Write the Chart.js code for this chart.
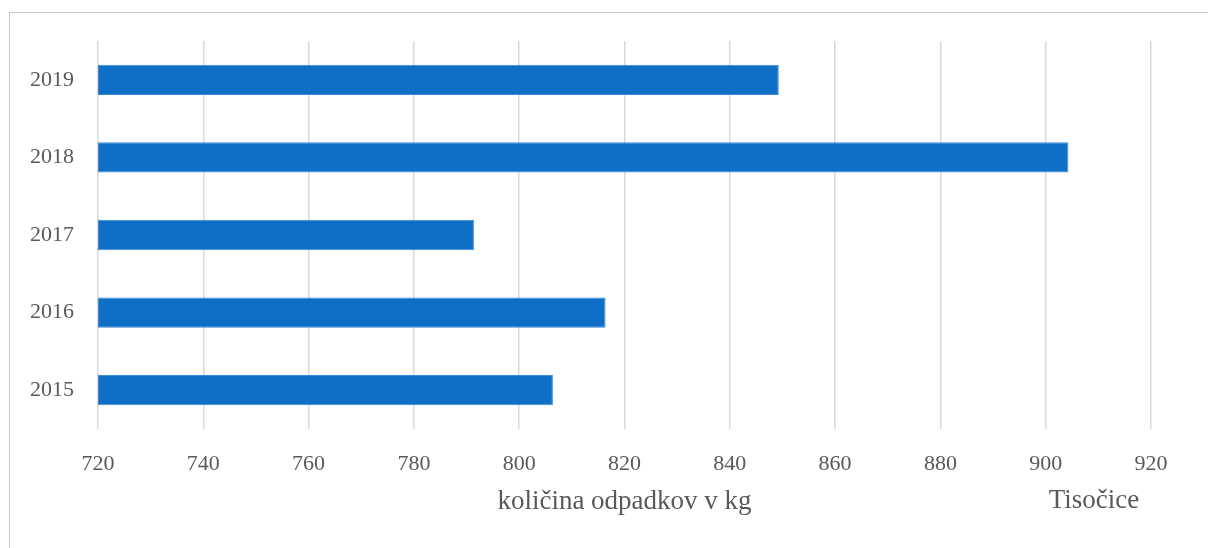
<!DOCTYPE html>
<html>
<head>
<meta charset="utf-8">
<script src="https://cdn.jsdelivr.net/npm/chart.js@4.4.1/dist/chart.umd.min.js"></script>
<style>
    html, body { margin: 0; padding: 0; background: #fff; overflow: hidden; }
    #wrap { position: relative; width: 1208px; height: 548px; }
    #frame {
        position: absolute; left: 9px; top: 12px; width: 1300px; height: 600px;
        border: 1px solid #c6c6c6; pointer-events: none; box-sizing: border-box;
    }
</style>
</head>
<body>
<div id="wrap">
    <canvas id="chart-waste" width="1208" height="548"></canvas>
    <div id="frame"></div>
</div>
<script>
    // Podatki (v tisočicah kg)
    const years = ['2019', '2018', '2017', '2016', '2015'];
    const wasteValues = [849.3, 904.3, 791.4, 816.4, 806.4];
    const xTicks = [720, 740, 760, 780, 800, 820, 840, 860, 880, 900, 920];

    const FONT = "'Liberation Serif', 'DejaVu Serif', serif";
    const TEXT_COLOR = '#595959';

    // Oznaka enote prikaza ("Tisočice") pod osjo
    const unitLabel = {
        id: 'unitLabel',
        afterDraw(chart) {
            const ctx = chart.ctx;
            ctx.save();
            ctx.font = '27px ' + FONT;
            ctx.fillStyle = TEXT_COLOR;
            ctx.textAlign = 'center';
            ctx.textBaseline = 'middle';
            ctx.fillText('Tisočice', 1094, 501);
            ctx.restore();
        }
    };

    new Chart(document.getElementById('chart-waste'), {
        type: 'bar',
        data: {
            labels: years,
            datasets: [{
                label: 'količina odpadkov v kg',
                data: wasteValues.map(v => [xTicks[0], v]),
                backgroundColor: '#0f6fc6',
                borderColor: '#3a8ad4',
                borderWidth: 1,
                borderSkipped: false,
                categoryPercentage: 1,
                barPercentage: 0.39
            }]
        },
        options: {
            indexAxis: 'y',
            responsive: false,
            animation: false,
            layout: { padding: { top: 41, right: 57, left: 0, bottom: 30 } },
            plugins: { legend: { display: false }, tooltip: { enabled: false } },
            scales: {
                x: {
                    min: 720,
                    max: 920,
                    afterBuildTicks: (scale) => { scale.ticks = xTicks.map(v => ({ value: v })); },
                    afterFit: (scale) => { scale.height = 89; },
                    ticks: { color: TEXT_COLOR, font: { family: FONT, size: 22 }, padding: 22 },
                    grid: { color: '#d9d9d9', lineWidth: 1.5, drawTicks: false },
                    border: { display: false },
                    title: {
                        display: true,
                        text: 'količina odpadkov v kg',
                        color: TEXT_COLOR,
                        font: { family: FONT, size: 27 },
                        padding: { top: 6, bottom: 0 }
                    }
                },
                y: {
                    afterFit: (scale) => { scale.width = 98; },
                    ticks: { color: TEXT_COLOR, font: { family: FONT, size: 22 }, padding: 16 },
                    grid: { display: false },
                    border: { display: false }
                }
            }
        },
        plugins: [unitLabel]
    });
</script>
</body>
</html>
